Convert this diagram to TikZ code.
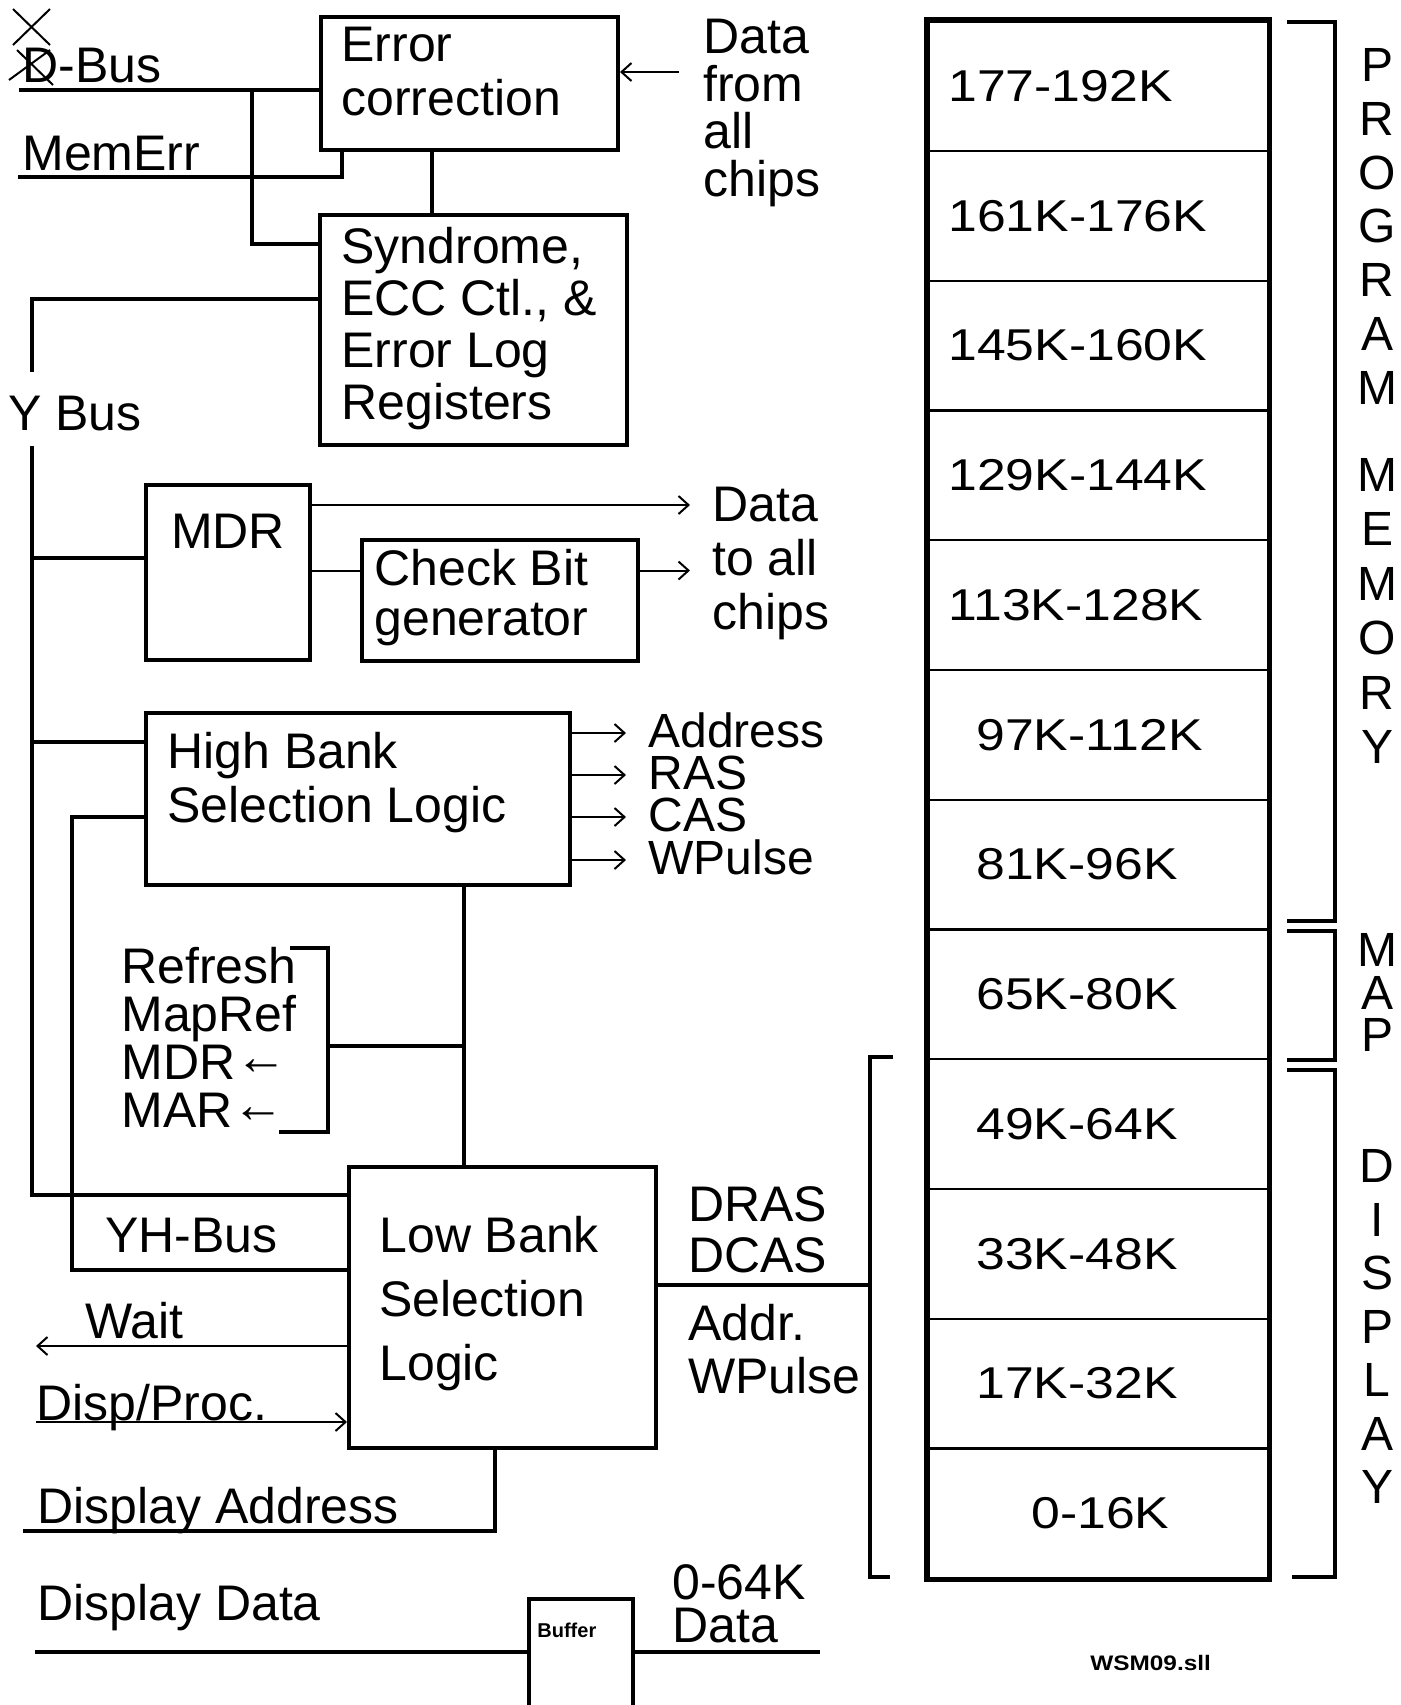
\documentclass[tikz,border=0pt]{standalone}
\usepackage{fontspec}
\setmainfont{Liberation Sans}
\newfontfamily\widefont[FakeStretch=1.16]{Liberation Sans}
\usetikzlibrary{arrows.meta}
\newcommand\txtsize[1]{\fontsize{25}{#1}\selectfont}
\newcommand\smallarr{\raisebox{2.5pt}{\fontsize{26}{26}\selectfont ←}}
\tikzset{
  box/.style = {draw, line width=2pt, inner sep=0pt, anchor=north west},
  bus/.style = {line width=1.8pt},
  wire/.style = {line width=1pt},
  sig/.style = {line width=1pt, -{Straight Barb[length=5pt,width=9pt]}},
  lbl/.style = {inner sep=0pt, align=left, font=\txtsize{27pt}},
  memrow/.style = {draw, line width=1.2pt, inner sep=0pt, anchor=north west, minimum width=170pt, minimum height=64.875pt},
  memlbl/.style = {inner sep=0pt, anchor=west, font=\widefont\fontsize{22.3}{24}\selectfont},
  vlet/.style = {inner sep=0pt, font=\fontsize{24}{24}\selectfont},
  brk/.style = {line width=2pt},
}

\begin{document}
\begin{tikzpicture}[x=0.5pt, y=-0.5pt]
    \useasboundingbox (0,0) rectangle (1401,1705);
    \clip (0,0) rectangle (1401,1705);

    % boxes
    \node[box, minimum width=148.5pt, minimum height=66.5pt] (ec) at (319,15) {};
    \node[box, minimum width=153.5pt, minimum height=115pt] (syn) at (318,213) {};
    \node[box, minimum width=82pt, minimum height=87.5pt] (mdr) at (144,483) {};
    \node[box, minimum width=138pt, minimum height=60.5pt] (cbg) at (360,538) {};
    \node[box, minimum width=212pt, minimum height=86pt] (hbs) at (144,711) {};
    \node[box, minimum width=153.5pt, minimum height=140.5pt] (lbs) at (347,1165) {};
    \node[box, minimum width=52pt, minimum height=71.5pt] (buf) at (527,1597) {};

    \node[lbl, anchor=north west] (ectxt) at ([xshift=11pt,yshift=-6pt]ec.north west) {Error\\correction};
    \node[lbl, anchor=north west, font=\txtsize{26pt}] (syntxt) at ([xshift=11.5pt,yshift=-7pt]syn.north west) {Syndrome,\\ECC Ctl., \&\\Error Log\\Registers};
    \node[lbl, anchor=north] (mdrtxt) at ([yshift=-15.5pt]mdr.north) {MDR};
    \node[lbl, anchor=north west, font=\txtsize{25pt}] (cbgtxt) at ([xshift=7pt,yshift=-5.5pt]cbg.north west) {Check Bit\\generator};
    \node[lbl, anchor=north west] (hbstxt) at ([xshift=11.5pt,yshift=-10.5pt]hbs.north west) {High Bank\\Selection Logic};
    \node[lbl, anchor=north west, font=\txtsize{32pt}] (lbstxt) at ([xshift=16pt,yshift=-25.5pt]lbs.north west) {Low Bank\\Selection\\Logic};
    \node[inner sep=0pt, anchor=base west, font=\bfseries\fontsize{10}{12}\selectfont] (buftxt) at ([xshift=5pt,yshift=-20pt]buf.north west) {Buffer};

    % free labels
    \node[lbl, anchor=base west] (dbustxt) at (22,82) {D-Bus};
    \node[lbl, anchor=base west] (memerrtxt) at (22,170) {MemErr};
    \node[lbl, anchor=base west] (ybustxt) at (8,430) {Y Bus};
    \node[lbl, anchor=north west, font=\txtsize{23.7pt}] (fromtxt) at (703,19) {Data\\from\\all\\chips};
    \node[lbl, anchor=north west] (totxt) at (712,487) {Data\\to all\\chips};
    \node[lbl, anchor=north west, font=\txtsize{24pt}] (reftxt) at (121,947) {Refresh\\MapRef\\MDR\smallarr\\MAR\smallarr};
    \node[lbl, anchor=north west, font=\txtsize{25.5pt}] (dcastxt) at (688,1186) {DRAS\\DCAS};
    \node[lbl, anchor=north west, font=\txtsize{26.5pt}] (addrtxt) at (688,1304) {Addr.\\WPulse};
    \node[lbl, anchor=base west] (yhtxt) at (105,1252) {YH-Bus};
    \node[lbl, anchor=base west] (waittxt) at (85,1338) {Wait};
    \node[lbl, anchor=base west] (dptxt) at (36,1420) {Disp/Proc.};
    \node[lbl, anchor=base west] (datxt) at (37,1523) {Display Address};
    \node[lbl, anchor=base west] (ddtxt) at (37,1620) {Display Data};
    \node[lbl, anchor=north west, font=\txtsize{21.5pt}] (dataout) at (672,1564) {0-64K\\Data};
    \node[inner sep=0pt, anchor=base west, font=\widefont\bfseries\fontsize{10.5}{12}\selectfont] (fname) at (1090,1670) {WSM09.sll};

    % pins
    \coordinate (dbus) at (19,90);
    \coordinate (dtap) at (252,90);
    \coordinate (memerr) at (18,177);
    \coordinate (ytop) at (32,372);
    \coordinate (ybot) at (32,446);
    \coordinate (yh) at (72,1270);
    \coordinate (fromchips) at (679,72);
    \coordinate (tochips) at (690,505);
    \coordinate (refa) at (290,948);
    \coordinate (refbrk) at (328,1046);
    \coordinate (refb) at (279,1132);
    \coordinate (waitpin) at (36,1346);
    \coordinate (dppin) at (36,1422);
    \coordinate (daddr) at (23,1531);
    \coordinate (dspine) at (870,1285);
    \coordinate (ddata) at (35,1652);
    \coordinate (ddataend) at (820,1652);

    % error correction side
    \draw[bus] (dbus) -- (dbus -| ec.west);
    \draw[bus] (dtap) |- ([yshift=-15.5pt]syn.north west);
    \draw[bus] (memerr) -| ([xshift=11.5pt]ec.south west);
    \draw[bus] ([xshift=56.5pt]ec.south west) -- ([xshift=56.5pt]ec.south west |- syn.north);
    \draw[sig] (fromchips) -- (fromchips -| ec.east);

    % Y bus
    \draw[bus] ([yshift=-43pt]syn.north west) -| (ytop);
    \draw[bus] (ybot) |- ([yshift=-15pt]lbs.north west);
    \draw[bus] ([yshift=-37.5pt]mdr.north west) -- ([yshift=-37.5pt]mdr.north west -| ybot);
    \draw[bus] ([yshift=-15.5pt]hbs.north west) -- ([yshift=-15.5pt]hbs.north west -| ybot);
    \draw[bus] ([yshift=-53pt]hbs.north west) -| (yh) -- (yh -| lbs.west);

    % MDR and check bits
    \draw[sig] ([yshift=-11pt]mdr.north east) -- ([yshift=-11pt]mdr.north east -| tochips);
    \draw[wire] ([yshift=15pt]cbg.west) -- ([yshift=15pt]cbg.west -| mdr.east);
    \draw[sig] ([yshift=15pt]cbg.east) -- ([yshift=15pt]cbg.east -| tochips);

    % high bank outputs
    \foreach \dy/\sigl [count=\k] in {11/Address, 32/RAS, 53/CAS, 74.5/WPulse} {
        \draw[sig] ([yshift=-\dy pt]hbs.north east) -- ++(27pt,0) coordinate (hbo\k);
        \node[lbl, anchor=base west, font=\fontsize{24}{24}\selectfont] (hbl\k) at ([xshift=11pt,yshift=-7pt]hbo\k) {\sigl};
    }
    \coordinate (hlink) at ([xshift=53pt]hbs.south);
    \draw[bus] (hlink) -- (hlink |- lbs.north);
    \draw[bus] (refa) -| (refbrk) |- (refb);
    \draw[bus] (refbrk) -- (refbrk -| hlink);

    % low bank
    \draw[sig] (waitpin -| lbs.west) -- (waitpin);
    \draw[sig] (dppin) -- (dppin -| lbs.west);
    \draw[bus] ([xshift=-3.75pt]lbs.south) |- (daddr);
    \draw[bus] (dspine -| lbs.east) -- (dspine);
    \draw[bus] (893,1057) -| (dspine) |- (890,1577);
    \draw[bus] (ddata) -- (ddata -| buf.west);
    \draw[bus] (ddata -| buf.east) -- (ddataend);

    % memory map
    \foreach \i/\lab/\dx in {1/177-192K/10.5, 2/161K-176K/10.5, 3/145K-160K/10.5, 4/129K-144K/10.5, 5/113K-128K/10.5, 6/97K-112K/24.5, 7/81K-96K/24.5, 8/65K-80K/24.5, 9/49K-64K/24.5, 10/33K-48K/24.5, 11/17K-32K/24.5, 12/0-16K/52} {
        \node[memrow] (row\i) at (927,{20+129.75*(\i-1)}) {};
        \node[memlbl] (rowlbl\i) at ([xshift=\dx pt]row\i.west) {\lab};
    }
    \draw[line width=2.6pt] (row1.north west) rectangle (row12.south east);

    \draw[brk] (1287,22) -| (1335,921) -- (1287,921);
    \draw[brk] (1287,931) -| (1335,1060) -- (1287,1060);
    \draw[brk] (1287,1070) -| (1335,1577) -- (1292,1577);
    \foreach \c [count=\k] in {P,R,O,G,R,A,M}
        \node[vlet] (pg\k) at (1377,{65+53.8*(\k-1)}) {\c};
    \foreach \c [count=\k] in {M,E,M,O,R,Y}
        \node[vlet] (me\k) at (1377,{475+54.4*(\k-1)}) {\c};
    \foreach \c [count=\k] in {M,A,P}
        \node[vlet] (mp\k) at (1377,{950+42.5*(\k-1)}) {\c};
    \foreach \c [count=\k] in {D,I,S,P,L,A,Y}
        \node[vlet] (ds\k) at (1377,{1166+53.5*(\k-1)}) {\c};

    % crossed-out D
    \draw[wire] (13,9) -- (50,45) (13,45) -- (50,9);
    \draw[wire] (9,80) -- (50,50) (17,50) -- (53,85);
\end{tikzpicture}
\end{document}
